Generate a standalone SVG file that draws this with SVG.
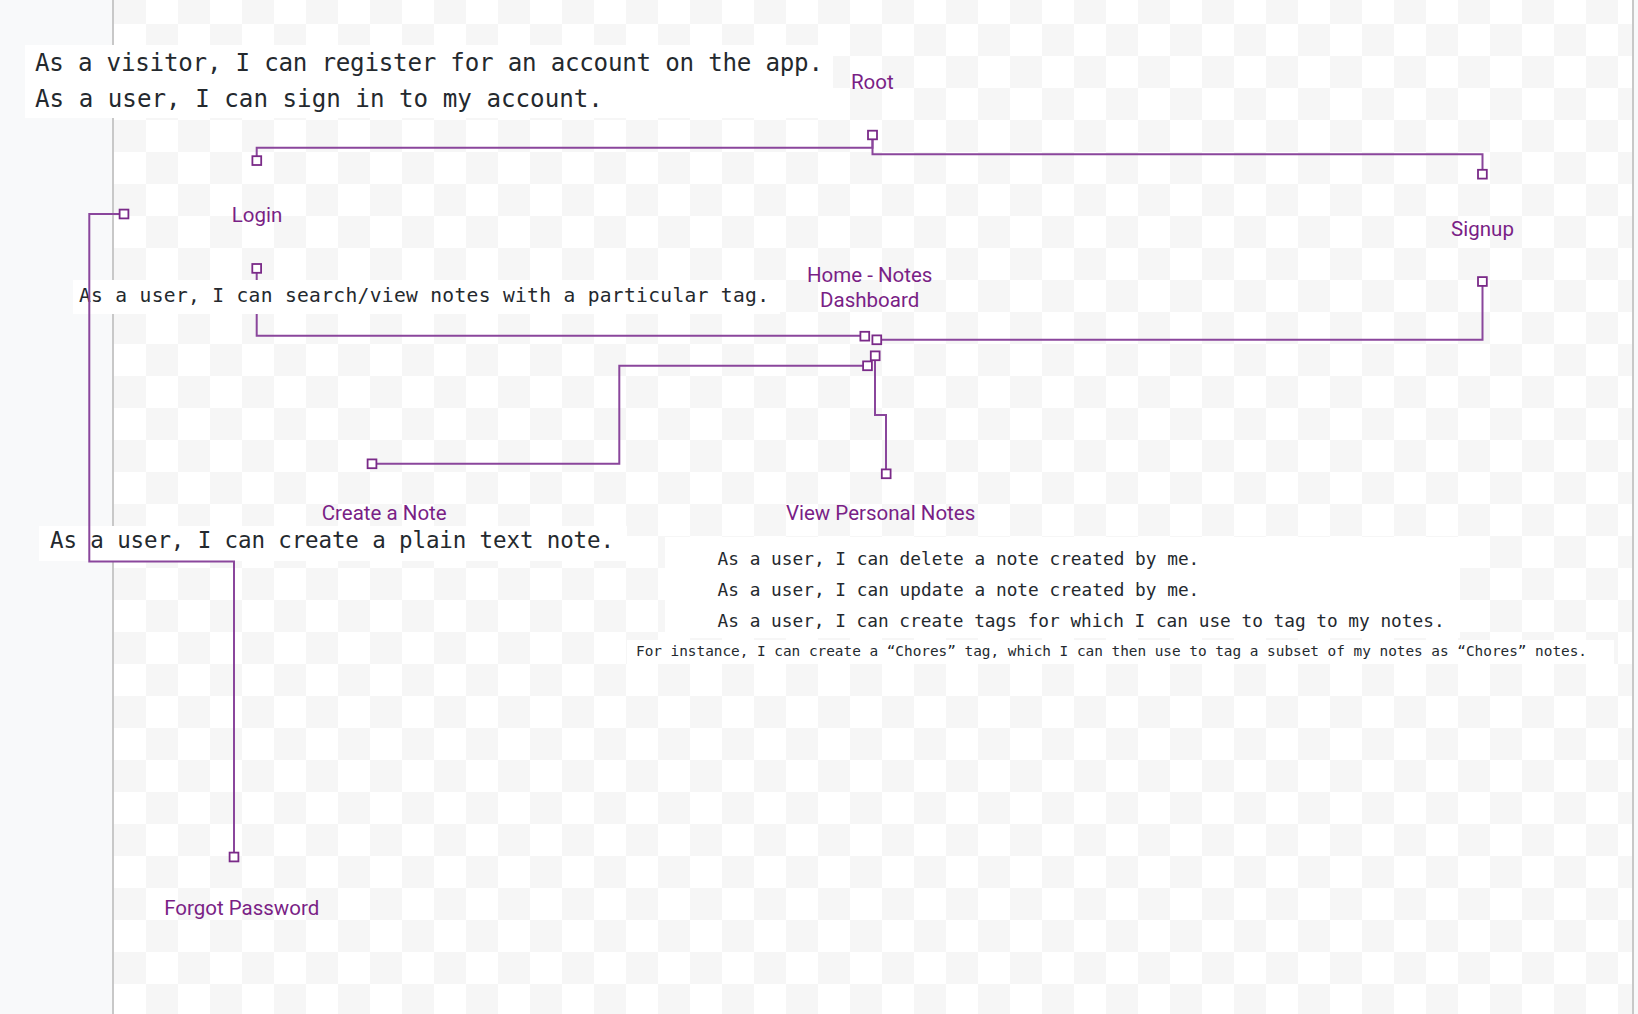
<svg xmlns="http://www.w3.org/2000/svg" width="1638" height="1014" viewBox="0 0 1638 1014">
<defs>
<pattern id="checker" patternUnits="userSpaceOnUse" x="114" y="24" width="64" height="64">
<rect width="64" height="64" fill="#ffffff"/>
<rect x="32" y="0" width="32" height="32" fill="#f6f6f6"/>
<rect x="0" y="32" width="32" height="32" fill="#f6f6f6"/>
</pattern>
<style>
.lbl{font-family:Roboto,"Liberation Sans",sans-serif;font-size:20.5px;fill:#7a1f86;text-anchor:middle}
.mono{font-family:"DejaVu Sans Mono","Liberation Mono",monospace;fill:#24292e}
.box{fill:#ffffff}
.port{fill:#ffffff;stroke:#7a2a88;stroke-width:1.8}
.wire{fill:none;stroke:#8a469c;stroke-width:2}
</style>
</defs>
<rect x="0" y="0" width="1638" height="1014" fill="#f8f9fa"/>
<rect x="114" y="0" width="1519" height="1014" fill="url(#checker)"/>
<line x1="113" y1="0" x2="113" y2="1014" stroke="#c8c8c8" stroke-width="2"/>
<line x1="1633" y1="0" x2="1633" y2="1014" stroke="#c8c8c8" stroke-width="2"/>

<g id="connectors-under">
<path class="wire" d="M256.7 272.5 V335.7 H860.3"/>
</g>

<g id="story-account">
<rect class="box" x="25" y="45" width="808" height="73"/>
<text class="mono" x="35" y="71" font-size="24.2" textLength="788" lengthAdjust="spacing">As a visitor, I can register for an account on the app.</text>
<text class="mono" x="35" y="106.5" font-size="24.2">As a user, I can sign in to my account.</text>
</g>
<g id="story-search">
<rect class="box" x="73" y="280" width="707" height="34"/>
<text class="mono" x="79" y="301.7" font-size="19.6" textLength="690" lengthAdjust="spacing">As a user, I can search/view notes with a particular tag.</text>
</g>
<g id="story-create">
<rect class="box" x="39" y="526" width="588" height="35"/>
<text class="mono" x="50" y="548" font-size="22.5" textLength="564" lengthAdjust="spacing">As a user, I can create a plain text note.</text>
</g>
<g id="story-personal">
<rect class="box" x="665" y="537" width="795" height="101"/>
<text class="mono" x="717.6" y="564.5" font-size="17.8">As a user, I can delete a note created by me.</text>
<text class="mono" x="717.6" y="595.5" font-size="17.8">As a user, I can update a note created by me.</text>
<text class="mono" x="717.6" y="626.5" font-size="17.8" textLength="727" lengthAdjust="spacing">As a user, I can create tags for which I can use to tag to my notes.</text>
<rect class="box" x="627" y="640" width="987" height="24"/>
<text class="mono" x="636" y="655.5" font-size="14.4" textLength="951" lengthAdjust="spacing">For instance, I can create a “Chores” tag, which I can then use to tag a subset of my notes as “Chores” notes.</text>
</g>

<g id="connectors">
<path class="wire" d="M872.5 139 V147.7 H256.7 V156"/>
<path class="wire" d="M872.5 139 V154.3 H1482.5 V169.5"/>
<path class="wire" d="M1482.5 286 V339.7 H881.3"/>
<path class="wire" d="M875 360.3 V415 H886 V469.3"/>
<path class="wire" d="M863 365.7 H619.3 V463.7 H376.3"/>
<path class="wire" d="M119.3 214 H89.3 V561.5 H234 V852.3"/>
</g>

<g id="node-root">
<text class="lbl" x="872.3" y="89">Root</text>
<rect class="port" x="868" y="130.7" width="9" height="8.6"/>
</g>
<g id="node-login">
<text class="lbl" x="257" y="221.7">Login</text>
<rect class="port" x="252.4" y="156.2" width="8.8" height="8.8"/>
<rect class="port" x="252.3" y="264" width="8.8" height="8.8"/>
<rect class="port" x="119.6" y="209.6" width="8.8" height="8.8"/>
</g>
<g id="node-signup">
<text class="lbl" x="1482.5" y="235.7">Signup</text>
<rect class="port" x="1478" y="169.8" width="8.8" height="8.8"/>
<rect class="port" x="1478" y="277.1" width="8.8" height="8.8"/>
</g>
<g id="node-home">
<text class="lbl" x="869.7" y="281.7">Home - Notes</text>
<text class="lbl" x="869.7" y="307.3">Dashboard</text>
<rect class="port" x="860.4" y="331.8" width="8.8" height="8.8"/>
<rect class="port" x="872.4" y="335.4" width="8.8" height="8.8"/>
<rect class="port" x="870.8" y="351.4" width="8.8" height="8.8"/>
<rect class="port" x="863.1" y="361.4" width="8.8" height="8.8"/>
</g>
<g id="node-create">
<text class="lbl" x="384.2" y="519.5">Create a Note</text>
<rect class="port" x="367.6" y="459.4" width="8.8" height="8.8"/>
</g>
<g id="node-view">
<text class="lbl" x="880.6" y="519.5">View Personal Notes</text>
<rect class="port" x="881.8" y="469.4" width="8.8" height="8.8"/>
</g>
<g id="node-forgot">
<text class="lbl" x="241.7" y="915">Forgot Password</text>
<rect class="port" x="229.6" y="852.6" width="8.8" height="8.8"/>
</g>
</svg>
